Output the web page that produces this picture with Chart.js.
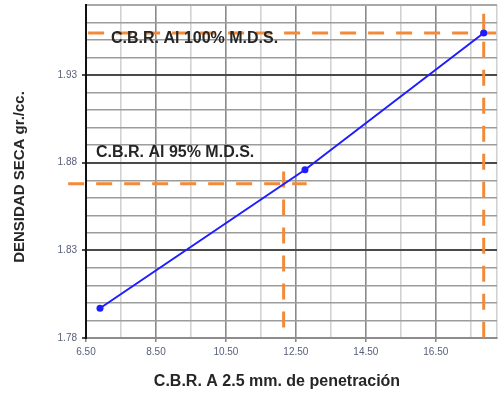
<!DOCTYPE html>
<html>
<head>
<meta charset="utf-8">
<script src="https://cdn.jsdelivr.net/npm/chart.js@4/dist/chart.umd.min.js"></script>
<style>
  html, body { margin: 0; padding: 0; background: #ffffff; }
  canvas { display: block; }
</style>
</head>
<body>
<canvas id="cbr" width="499" height="394"></canvas>
<script>
// CBR test: dry density against CBR at 2.5 mm penetration
const cbrValues = [6.9, 12.76, 17.87];
const densityValues = [1.797, 1.876, 1.954];

const xTickLabels = ['6.50', '8.50', '10.50', '12.50', '14.50', '16.50'];
const yTickLabels = ['1.78', '1.83', '1.88', '1.93'];

// design levels read on the curve
const mdsLevels = [1.954, 1.868];        // 100 % and 95 % of max. dry density
const cbrAtLevels = [17.87, 12.15];      // CBR at those densities
const levelNames = ['C.B.R. Al 100% M.D.S.', 'C.B.R. Al 95% M.D.S.'];

const xMin = 6.5, xMax = 18.25;
const yMin = 1.78, yMax = 1.97;

const FONT = '"Liberation Sans", Arial, Helvetica, sans-serif';
const ORANGE = '#f28a3a';
const BLUE = '#1d1dff';

// grid positions: every 1.0 on CBR, every 0.01 on density
const xGrid = [];
for (let v = xMin; v < xMax; v += 1) xGrid.push(v);
xGrid.push(xMax);
const yGrid = [];
for (let i = 0; i <= 19; i++) yGrid.push(Math.round((yMin + i * 0.01) * 100) / 100);

const isXLabel = v => xTickLabels.includes(v.toFixed(2));
const isYLabel = v => yTickLabels.includes(v.toFixed(2));

function guide(points) {
  return {
    data: points,
    borderColor: ORANGE,
    borderWidth: 3,
    borderDash: [16, 12],
    pointRadius: 0,
    fill: false,
    clip: false,
    tension: 0
  };
}

const datasets = [
  {
    label: 'Densidad seca',
    data: cbrValues.map((x, i) => ({ x, y: densityValues[i] })),
    borderColor: BLUE,
    backgroundColor: BLUE,
    borderWidth: 2,
    pointRadius: 3.5,
    pointBackgroundColor: BLUE,
    pointBorderWidth: 0,
    fill: false,
    tension: 0
  },
  // 100 % M.D.S. guide lines
  guide([{ x: 6.56, y: mdsLevels[0] }, { x: 18.32, y: mdsLevels[0] }]),
  guide([{ x: cbrAtLevels[0], y: 1.965 }, { x: cbrAtLevels[0], y: 1.777 }]),
  // 95 % M.D.S. guide lines
  guide([{ x: 5.99, y: mdsLevels[1] }, { x: 12.81, y: mdsLevels[1] }]),
  guide([{ x: cbrAtLevels[1], y: 1.875 }, { x: cbrAtLevels[1], y: 1.7846 }])
];

// the plot frame is pinned so the axes sit where the sheet put them
const frame = { left: 86, right: 497, top: 5, bottom: 338 };
const pinFrame = {
  id: 'pinFrame',
  afterLayout(chart) {
    const a = chart.chartArea;
    Object.assign(a, frame);
    a.width = frame.right - frame.left;
    a.height = frame.bottom - frame.top;
    const { x, y } = chart.scales;
    x.left = frame.left; x.right = frame.right; x.width = a.width;
    x.top = frame.bottom; x.bottom = chart.height; x.height = chart.height - frame.bottom;
    y.top = frame.top; y.bottom = frame.bottom; y.height = a.height;
    y.left = 0; y.right = frame.left; y.width = frame.left;
    x.configure(); y.configure();
  }
};

// level captions and axis titles
const captions = {
  id: 'captions',
  afterDatasetsDraw(chart) {
    const { ctx, scales: { x, y } } = chart;
    ctx.save();
    ctx.fillStyle = '#262626';
    ctx.font = 'bold 16px ' + FONT;
    ctx.textAlign = 'left';
    ctx.textBaseline = 'middle';
    ctx.fillText(levelNames[0], x.getPixelForValue(xMin) + 25, y.getPixelForValue(mdsLevels[0]) + 6);
    ctx.fillText(levelNames[1], x.getPixelForValue(xMin) + 10, y.getPixelForValue(mdsLevels[1]) - 31);

    ctx.textAlign = 'center';
    ctx.font = 'bold 16px ' + FONT;
    ctx.fillText('C.B.R. A 2.5 mm. de penetración', 277, 382);

    ctx.translate(20, 177);
    ctx.rotate(-Math.PI / 2);
    ctx.font = 'bold 15px ' + FONT;
    ctx.fillText('DENSIDAD SECA gr./cc.', 0, 0);
    ctx.restore();
  }
};

new Chart(document.getElementById('cbr'), {
  type: 'line',
  data: { datasets },
  options: {
    responsive: false,
    animation: false,
    devicePixelRatio: 1,
    layout: { padding: 0 },
    plugins: { legend: { display: false }, tooltip: { enabled: false } },
    scales: {
      x: {
        type: 'linear',
        min: xMin,
        max: xMax,
        afterBuildTicks: s => { s.ticks = xGrid.map(v => ({ value: v })); },
        border: { color: '#8c8c8c', width: 2 },
        grid: {
          color: c => ((c.tick.value - xMin) % 2 === 0 ? '#8a8a8a' : '#d2d2d2'),
          lineWidth: 1.6,
          tickLength: 4,
          tickColor: c => (isXLabel(c.tick.value) ? '#8a8a8a' : 'rgba(0,0,0,0)')
        },
        ticks: {
          autoSkip: false,
          maxRotation: 0,
          padding: 4,
          color: '#58607a',
          font: { family: FONT, size: 10 },
          callback: v => (isXLabel(v) ? v.toFixed(2) : '')
        }
      },
      y: {
        type: 'linear',
        min: yMin,
        max: yMax,
        afterBuildTicks: s => { s.ticks = yGrid.map(v => ({ value: v })); },
        border: { color: '#111111', width: 2 },
        grid: {
          color: c => {
            const v = c.tick.value;
            if (isYLabel(v)) return '#4a4a4a';
            if (Math.abs(v - yMax) < 1e-9) return '#a8a8a8';
            return '#9c9c9c';
          },
          lineWidth: c => (isYLabel(c.tick.value) || Math.abs(c.tick.value - yMax) < 1e-9 ? 2 : 1.5),
          tickLength: 4,
          tickColor: c => (isYLabel(c.tick.value) ? '#4a4a4a' : 'rgba(0,0,0,0)')
        },
        ticks: {
          autoSkip: false,
          padding: 5,
          color: '#58607a',
          font: { family: FONT, size: 10 },
          callback: v => (isYLabel(v) ? v.toFixed(2) : '')
        }
      }
    }
  },
  plugins: [pinFrame, captions]
});
</script>
</body>
</html>
